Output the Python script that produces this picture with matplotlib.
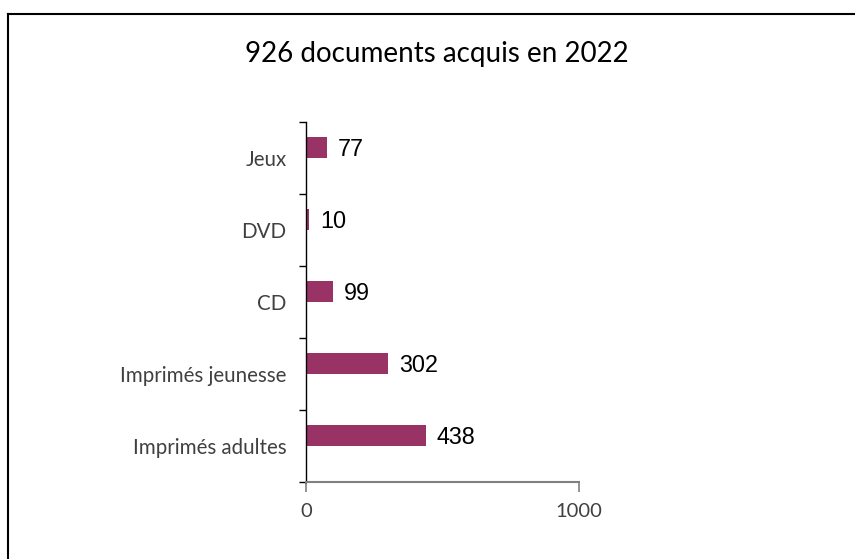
import numpy as np
import matplotlib.pyplot as plt
from matplotlib.lines import Line2D

# données
categories = ['Imprimés adultes', 'Imprimés jeunesse', 'CD', 'DVD', 'Jeux']
valeurs = [438, 302, 99, 10, 77]
titre = '926 documents acquis en 2022'

W, H = 855, 559
fig = plt.figure(figsize=(W / 100, H / 100), dpi=100)
ax = fig.add_axes([306 / W, 1 - 482 / H, (579 - 306) / W, (482 - 122) / H])

pos = np.arange(len(categories))
decalage = 0.15  # les barres sont un peu au-dessus du centre de la catégorie
ax.barh(pos + decalage, valeurs, height=0.29, color='#993366')
ax.set_ylim(-0.5, len(categories) - 0.5)
ax.set_xlim(0, 1000)

# étiquettes de valeurs
for p, v in zip(pos, valeurs):
    ax.annotate(str(v), (v, p + decalage), xytext=(8, -1.5), textcoords='offset points',
                va='center', ha='left', fontsize=16.8, family='Liberation Sans', color='black')

# axe des catégories
ax.set_yticks(pos)
ax.set_yticklabels(categories, family='Lato', fontsize=14.8, color='#404040')
ax.set_yticks(np.append(pos - 0.5, len(categories) - 0.5), minor=True)
ax.tick_params(axis='y', which='major', length=0, pad=14)
ax.tick_params(axis='y', which='minor', length=5, width=1, direction='out', color='black')

# axe des valeurs
ax.set_xticks([0, 1000])
ax.set_xticklabels(['0', '1000'], family='Lato', fontsize=14.5, color='#404040')
ax.tick_params(axis='x', length=7, width=1.2, color='#808080', pad=8)

for s in ['top', 'right']:
    ax.spines[s].set_visible(False)
ax.spines['left'].set_color('black')
ax.spines['left'].set_linewidth(1)
ax.spines['bottom'].set_color('#808080')
ax.spines['bottom'].set_linewidth(1.5)

fig.text(437 / W, 1 - 54 / H, titre, ha='center', va='center', fontsize=20,
         family='Lato', color='black')

# cadre du graphique
fig.add_artist(Line2D([8 / W, 1], [1 - 14 / H, 1 - 14 / H], transform=fig.transFigure,
                      color='black', lw=1.5))
fig.add_artist(Line2D([8 / W, 8 / W], [0, 1 - 14 / H], transform=fig.transFigure,
                      color='black', lw=1.5))

fig.savefig('out.png', dpi=100)
